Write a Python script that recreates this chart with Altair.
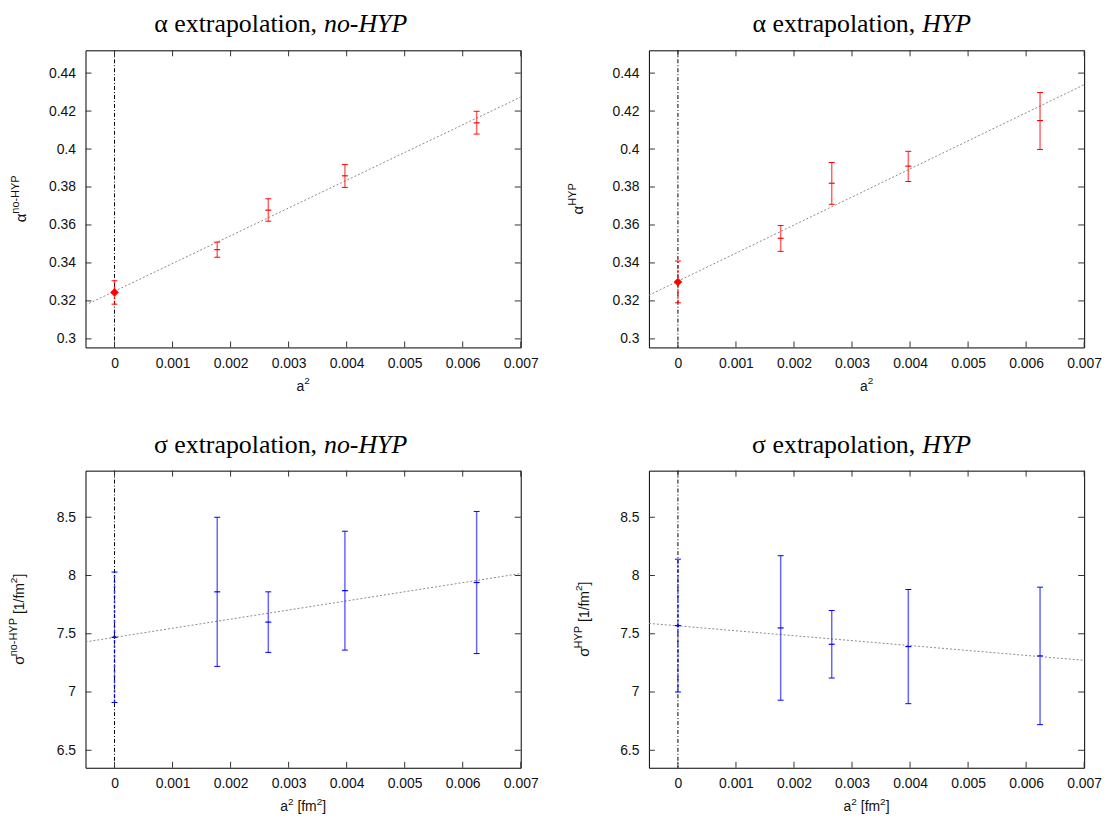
import altair as alt
import pandas as pd

# ---------------- data ----------------
a2 = [0.0, 0.00177, 0.00265, 0.00397, 0.00624]

alpha_nohyp = [0.3245, 0.347, 0.3678, 0.3859, 0.4138]
alpha_nohyp_lo = [0.3183, 0.343, 0.362, 0.3798, 0.4079]
alpha_nohyp_hi = [0.3306, 0.351, 0.3738, 0.3918, 0.4199]

alpha_hyp = [0.330, 0.353, 0.382, 0.391, 0.415]
alpha_hyp_lo = [0.319, 0.3461, 0.3709, 0.3829, 0.3998]
alpha_hyp_hi = [0.341, 0.3597, 0.3929, 0.3988, 0.4298]

sigma_nohyp = [7.47, 7.86, 7.60, 7.87, 7.94]
sigma_nohyp_lo = [6.91, 7.22, 7.34, 7.36, 7.33]
sigma_nohyp_hi = [8.03, 8.50, 7.86, 8.38, 8.55]

sigma_hyp = [7.57, 7.55, 7.41, 7.39, 7.31]
sigma_hyp_lo = [7.00, 6.93, 7.12, 6.90, 6.72]
sigma_hyp_hi = [8.14, 8.17, 7.70, 7.88, 7.90]

fit_x = [-0.0005, 0.007]
fit_alpha_nohyp = [0.3178, 0.4274]
fit_alpha_hyp = [0.323, 0.4339]
fit_sigma_nohyp = [7.43, 8.017]
fit_sigma_hyp = [7.589, 7.272]

x_ticks = [0, 0.001, 0.002, 0.003, 0.004, 0.005, 0.006, 0.007]
alpha_ticks = [0.30, 0.32, 0.34, 0.36, 0.38, 0.40, 0.42, 0.44]
sigma_ticks = [6.5, 7.0, 7.5, 8.0, 8.5]

x_domain = [-0.0005, 0.007]
alpha_domain = [0.2955, 0.452]
sigma_domain = [6.35, 8.9]

SANS = "Liberation Sans"
SERIF = "Liberation Serif"
RED = "#ff0000"
BLUE = "#0000ff"

# approx glyph widths (em) for Liberation Sans, used to lay out label pieces
CW = {'n': .556, 'o': .556, '-': .333, 'H': .722, 'Y': .667, 'P': .667, ' ': .278,
      '[': .278, ']': .278, '1': .556, '/': .278, 'f': .278, 'm': .833, '2': .556,
      'α': .58, 'σ': .56, 'a': .556}


def tw(s, fs):
    return sum(CW.get(c, .55) for c in s) * fs


ONE = pd.DataFrame({"k": [0]})


def panel(vals, lo, hi, fit_y, ydom, yticks, yfmt, color, xlab,
          title_a, title_b, split, ylab, ylab_x, w, h, big0):
    df = pd.DataFrame({"x": a2, "v": vals, "lo": lo, "hi": hi,
                       "ex": [1, 0, 0, 0, 0]})
    xs = alt.Scale(domain=x_domain, nice=False, zero=False)
    ys = alt.Scale(domain=ydom, nice=False, zero=False)
    xax = alt.Axis(values=x_ticks, format=".3~f", ticks=False, domain=False, grid=False,
                   labelPadding=9, labelFontSize=14, labelFont=SANS, labelColor="#111",
                   labelFlush=False, labelOverlap=False, title=None)
    yax = alt.Axis(values=yticks, format=yfmt, ticks=False, domain=False, grid=False,
                   labelPadding=10, labelFontSize=14, labelFont=SANS, labelColor="#111",
                   labelFlush=False, labelOverlap=False, title=None)

    def X(f):
        return alt.X(f, scale=xs, axis=xax, title=None)

    def Y(f):
        return alt.Y(f, scale=ys, axis=yax, title=None)

    fit = alt.Chart(pd.DataFrame({"x": fit_x, "y": fit_y})).mark_line(
        color="#8a8a8a", strokeWidth=1, strokeDash=[2, 2], clip=True
    ).encode(x=X("x:Q"), y=Y("y:Q"))

    zero = alt.Chart(pd.DataFrame({"x": [0.0]})).mark_rule(
        color="#000", strokeWidth=1, strokeDash=[4, 2, 1, 2]
    ).encode(x=X("x:Q"), y=alt.value(0), y2=alt.value(h))

    base = alt.Chart(df)
    bars = base.transform_filter("datum.ex == 0").mark_rule(
        color=color, strokeWidth=1.5, opacity=0.6
    ).encode(x=X("x:Q"), y=Y("lo:Q"), y2="hi:Q")
    bar0 = base.transform_filter("datum.ex == 1").mark_rule(
        color=color, strokeWidth=1.5, opacity=0.8, strokeDash=[3, 2]
    ).encode(x=X("x:Q"), y=Y("lo:Q"), y2="hi:Q")
    cap_lo = base.mark_tick(orient="horizontal", size=6, thickness=1, color=color, opacity=1).encode(
        x=X("x:Q"), y=Y("lo:Q"))
    cap_hi = base.mark_tick(orient="horizontal", size=6, thickness=1, color=color, opacity=1).encode(
        x=X("x:Q"), y=Y("hi:Q"))
    ctr = base.mark_tick(orient="horizontal", size=6, thickness=1.2, color=color, opacity=1).encode(
        x=X("x:Q"), y=Y("v:Q"))
    pt0 = base.transform_filter("datum.ex == 1").mark_point(
        shape="diamond", filled=True, size=(75 if big0 else 14), color=color, opacity=1
    ).encode(x=X("x:Q"), y=Y("v:Q"))

    xt = pd.DataFrame({"t": x_ticks})
    yt = pd.DataFrame({"t": yticks})
    tick_style = dict(color="#333", strokeWidth=1)
    tb = alt.Chart(xt).mark_rule(**tick_style).encode(
        x=X("t:Q"), y=alt.value(h), y2=alt.value(h - 6))
    tt = alt.Chart(xt).mark_rule(**tick_style).encode(
        x=X("t:Q"), y=alt.value(0), y2=alt.value(6))
    tl = alt.Chart(yt).mark_rule(**tick_style).encode(
        y=Y("t:Q"), x=alt.value(0), x2=alt.value(6))
    tr = alt.Chart(yt).mark_rule(**tick_style).encode(
        y=Y("t:Q"), x=alt.value(w), x2=alt.value(w - 6))

    # title: upright part + italic part
    ta = alt.Chart(ONE).mark_text(text=title_a, font=SERIF, fontSize=26, align="right",
                                  baseline="alphabetic", color="#000").encode(
        x=alt.value(split - 7), y=alt.value(-18))
    tbi = alt.Chart(ONE).mark_text(text=title_b, font=SERIF, fontSize=26, fontStyle="italic",
                                   align="left", baseline="alphabetic", color="#000").encode(
        x=alt.value(split), y=alt.value(-18))

    # rotated y label built from pieces (base text + superscripts)
    total = sum(tw(s, fs) + gap for s, fs, r, gap in ylab)
    y0 = h / 2 + total / 2
    pieces = []
    for s, fs, r, gap in ylab:
        y0 -= gap
        pieces.append(alt.Chart(ONE).mark_text(
            text=s, font=SANS, fontSize=fs, angle=270, align="left",
            baseline="alphabetic", color="#111").encode(
            x=alt.value(ylab_x - r), y=alt.value(y0)))
        y0 -= tw(s, fs)

    # x label built from pieces
    total = sum(tw(s, fs) + gap for s, fs, r, gap in xlab)
    x0 = w / 2 - total / 2
    for s, fs, r, gap in xlab:
        x0 += gap
        pieces.append(alt.Chart(ONE).mark_text(
            text=s, font=SANS, fontSize=fs, align="left",
            baseline="alphabetic", color="#111").encode(
            x=alt.value(x0), y=alt.value(h + 44 - r)))
        x0 += tw(s, fs)

    return alt.layer(fit, zero, bars, bar0, cap_lo, cap_hi, ctr, pt0,
                     tb, tt, tl, tr, ta, tbi, *pieces).properties(width=w, height=h)


W, H = 438, 299

xlab_a = [("a", 14, 0, 0), ("2", 10, 7, 0)]
xlab_s = [("a", 14, 0, 0), ("2", 10, 7, 0), ("[fm", 14, 0, 4), ("2", 10, 7, 0), ("]", 14, 0, 0)]

tl_p = panel(alpha_nohyp, alpha_nohyp_lo, alpha_nohyp_hi, fit_alpha_nohyp, alpha_domain,
             alpha_ticks, ".2~f", RED, xlab_a, "α extrapolation,", "no-HYP", 240,
             [("α", 15, 0, 0), ("no-HYP", 11, 7, 0)], -60, W, H, True)
tr_p = panel(alpha_hyp, alpha_hyp_lo, alpha_hyp_hi, fit_alpha_hyp, alpha_domain,
             alpha_ticks, ".2~f", RED, xlab_a, "α extrapolation,", "HYP", 275,
             [("α", 15, 0, 0), ("HYP", 11, 7, 0)], -66, W, H, True)
bl_p = panel(sigma_nohyp, sigma_nohyp_lo, sigma_nohyp_hi, fit_sigma_nohyp, sigma_domain,
             sigma_ticks, ".1~f", BLUE, xlab_s, "σ extrapolation,", "no-HYP", 240,
             [("σ", 15, 0, 0), ("no-HYP", 11, 7, 0), ("[1/fm", 14, 0, 4),
              ("2", 10, 7, 0), ("]", 14, 0, 0)], -62, W, H, False)
br_p = panel(sigma_hyp, sigma_hyp_lo, sigma_hyp_hi, fit_sigma_hyp, sigma_domain,
             sigma_ticks, ".1~f", BLUE, xlab_s, "σ extrapolation,", "HYP", 275,
             [("σ", 15, 0, 0), ("HYP", 11, 7, 0), ("[1/fm", 14, 0, 4),
              ("2", 10, 7, 0), ("]", 14, 0, 0)], -60, W, H, False)

chart = alt.concat(tl_p, tr_p, bl_p, br_p, columns=2,
                   spacing=alt.RowColnumber(row=124, column=129), bounds="flush").configure_view(
    stroke="#000", strokeWidth=1
).properties(background="#ffffff",
             padding={"left": -1, "top": 0, "right": 5, "bottom": 5})

chart.save("out.html", embed_options={"renderer": "svg", "actions": False})
